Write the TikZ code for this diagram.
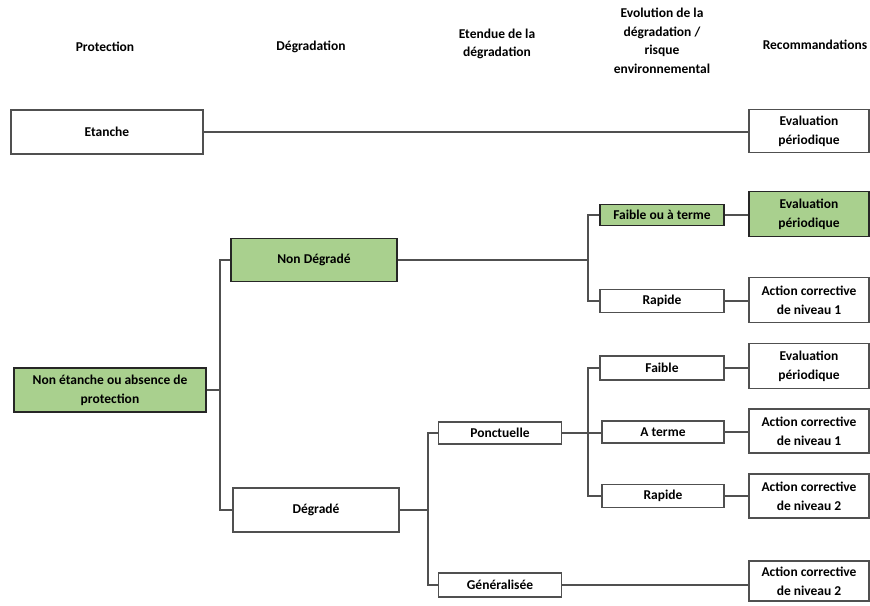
\documentclass[tikz,border=0pt]{standalone}
\usepackage{fontspec}
\setmainfont{Carlito}
\usetikzlibrary{positioning, calc}
\definecolor{vert}{HTML}{A9D08E}
\definecolor{trait}{HTML}{505050}

\begin{document}
\begin{tikzpicture}[x=1pt, y=-1pt,
		box/.style={draw=trait, line width=1.1pt, fill=white, align=center, inner sep=0pt, font=\fontsize{13.5}{19}\selectfont\bfseries},
		gbox/.style={box, draw=black!85, line width=1.8pt, fill=vert},
		head/.style={align=center, inner sep=0pt, font=\fontsize{13.5}{18.5}\selectfont\bfseries},
		link/.style={draw=trait, line width=1.1pt}]
			\useasboundingbox (0,0) rectangle (870,605);
			% en-tetes
			\node (hProt) [head] at (105,47) {Protection};
			\node (hDeg) [head] at (311,47) {Dégradation};
			\node (hEtd) [head] at (497,44) {Etendue de la\\dégradation};
			\node (hEvo) [head] at (662,41) {Evolution de la\\dégradation /\\risque\\environnemental};
			\node (hRec) [head] at (815,45) {Recommandations};

			% colonne 1
			\node (etanche) [box, minimum width=192, minimum height=44] at (107,132) {Etanche};
			\node (nonEt) [gbox, minimum width=192, minimum height=44] at (110,390) {Non étanche ou absence de\\protection};
			% colonne 2
			\node (nonDeg) [gbox, minimum width=166, minimum height=43] at (314,260) {Non Dégradé};
			\node (degr) [box, minimum width=166, minimum height=44] at (316,510) {Dégradé};
			% colonne 3
			\node (ponct) [box, minimum width=123, minimum height=22] at (500,433) {Ponctuelle};
			\node (general) [box, minimum width=123, minimum height=24] at (500,585) {Généralisée};
			% colonne 4
			\node (faibleT) [gbox, minimum width=124, minimum height=21] at (662,215) {Faible ou à terme};
			\node (rapideA) [box, minimum width=124, minimum height=23] at (662,301) {Rapide};
			\node (faible) [box, minimum width=124, minimum height=24] at (662,368) {Faible};
			\node (aterme) [box, minimum width=122, minimum height=22] at (663,432) {A terme};
			\node (rapideB) [box, minimum width=122, minimum height=23] at (663,496) {Rapide};
			% colonne 5
			\node (evalA) [box, minimum width=120, minimum height=43] at (809,131) {Evaluation\\périodique};
			\node (evalB) [gbox, minimum width=120, minimum height=45] at (809,214) {Evaluation\\périodique};
			\node (act1A) [box, minimum width=120, minimum height=45] at (809,300) {Action corrective\\de niveau 1};
			\node (evalC) [box, minimum width=120, minimum height=45] at (809,366) {Evaluation\\périodique};
			\node (act1B) [box, minimum width=120, minimum height=44] at (809,431) {Action corrective\\de niveau 1};
			\node (act2A) [box, minimum width=120, minimum height=44] at (809,496) {Action corrective\\de niveau 2};
			\node (act2B) [box, minimum width=120, minimum height=40] at (809,581) {Action corrective\\de niveau 2};

			% embranchements
			\coordinate (j1) at (220,0);
			\coordinate (j2) at (588,0);
			\coordinate (j3) at (428,0);

			\draw [link] (etanche.east) -- (etanche.east -| evalA.west);

			\draw [link] (nonEt.east) -- (nonEt.east -| j1);
			\draw [link] (nonDeg.west) -| (j1 |- degr.west) -- (degr.west);

			\draw [link] (nonDeg.east) -- (nonDeg.east -| j2);
			\draw [link] (faibleT.west) -| (j2 |- rapideA.west) -- (rapideA.west);
			\draw [link] (faibleT.east) -- (faibleT.east -| evalB.west);
			\draw [link] (rapideA.east) -- (rapideA.east -| act1A.west);

			\draw [link] (degr.east) -- (degr.east -| j3);
			\draw [link] (ponct.west) -| (j3 |- general.west) -- (general.west);
			\draw [link] (ponct.east) -- (ponct.east -| aterme.west);
			\draw [link] (faible.west) -| (j2 |- rapideB.west) -- (rapideB.west);
			\draw [link] (faible.east) -- (faible.east -| evalC.west);
			\draw [link] (aterme.east) -- (aterme.east -| act1B.west);
			\draw [link] (rapideB.east) -- (rapideB.east -| act2A.west);
			\draw [link] (general.east) -- (general.east -| act2B.west);
		\end{tikzpicture}
\end{document}
